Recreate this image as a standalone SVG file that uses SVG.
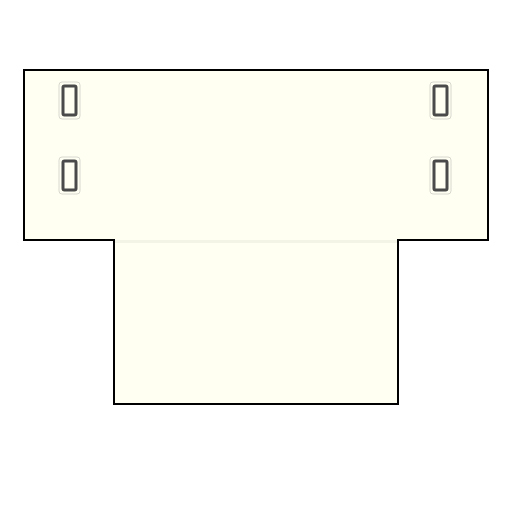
<svg xmlns="http://www.w3.org/2000/svg" width="512" height="512" viewBox="0 0 512 512">
<style>
.body{fill:#FFFFF2;stroke:#000;stroke-width:2}
.slot{fill:#FFFFF2;stroke:#4a4a4a;stroke-width:3}
.halo{fill:none;stroke:#d8d8d0;stroke-width:1}
</style>
<rect width="512" height="512" fill="#fff"/>
<g id="plate">
<path class="body" d="M24,70 H488 V240 H398 V404 H114 V240 H24 Z"/>
<line x1="115" y1="241.5" x2="397" y2="241.5" stroke="#f3f3e6" stroke-width="3"/>
</g>
<g id="slots">
<rect class="halo" x="59" y="82" width="21" height="37" rx="3"/>
<rect class="slot" x="63" y="86" width="13" height="29" rx="1.5"/>
<rect class="halo" x="59" y="157" width="21" height="37" rx="3"/>
<rect class="slot" x="63" y="161" width="13" height="29" rx="1.5"/>
<rect class="halo" x="430" y="82" width="21" height="37" rx="3"/>
<rect class="slot" x="434" y="86" width="13" height="29" rx="1.5"/>
<rect class="halo" x="430" y="157" width="21" height="37" rx="3"/>
<rect class="slot" x="434" y="161" width="13" height="29" rx="1.5"/>
</g>
</svg>
